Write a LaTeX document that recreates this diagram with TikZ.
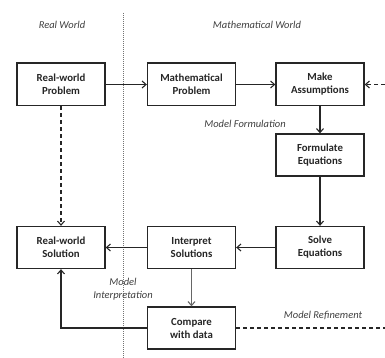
\documentclass[tikz,border=0pt]{standalone}
\usepackage{fontspec}
\setmainfont{Carlito}
\usetikzlibrary{arrows.meta}
\begin{document}
\begin{tikzpicture}[x=1pt,y=-1pt,
  box/.style={draw=black!85,line width=1.3pt,minimum width=88pt,minimum height=42pt,
    align=center,font=\bfseries\fontsize{10.8}{13}\selectfont,text=black!85,inner sep=1pt},
  lbl/.style={font=\itshape\fontsize{10.5}{12.5}\selectfont,text=black!75,align=center},
  arr/.style={draw=black!85,line width=1.1pt,-{Straight Barb[length=4pt,width=7pt]}},
  darr/.style={arr,dash pattern=on 4pt off 3pt}]
\useasboundingbox (0,0) rectangle (385,358);
\fill[white] (0,0) rectangle (385,358);
\draw[black!55,line width=0.8pt,dash pattern=on 1pt off 1pt] (123,13) -- (123,358);
\node[lbl] (rw) at (62,25) {Real World};
\node[lbl] (mw) at (257,25) {Mathematical World};
\node[box] (rwp) at (61,84.5) {Real-world\\Problem};
\node[box] (mp) at (191.5,84.5) {Mathematical\\Problem};
\node[box] (ma) at (320,84.5) {Make\\Assumptions};
\node[box] (fe) at (320,155) {Formulate\\Equations};
\node[box] (se) at (320,247.5) {Solve\\Equations};
\node[box] (is) at (191.5,247.5) {Interpret\\Solutions};
\node[box] (rws) at (61,247.5) {Real-world\\Solution};
\node[box] (cwd) at (191.5,328) {Compare\\with data};
\foreach \n in {rwp,mp,ma}
  \draw[black!85,line width=2.4pt] (\n.north west) -- (\n.north east);
\node[lbl] (mf) at (245,124) {Model Formulation};
\node[lbl] (mi) at (123,289) {Model\\Interpretation};
\node[lbl] (mr) at (323,315) {Model Refinement};
\coordinate (ein) at (385,84.5);
\coordinate (eout) at (385,328);
\draw[arr] (rwp) -- (mp);
\draw[arr] (mp) -- (ma);
\draw[arr] (ma) -- (fe);
\draw[arr] (fe) -- (se);
\draw[arr] (se) -- (is);
\draw[arr] (is) -- (rws);
\draw[arr,draw=black!60] (is) -- (cwd);
\draw[darr] (rwp) -- (rws);
\draw[arr] (cwd.west) -| (rws.south);
\draw[darr] (ein) -- (ma.east);
\draw[black!85,line width=1.1pt,dash pattern=on 4pt off 3pt] (cwd.east) -- (eout);
\end{tikzpicture}
\end{document}
